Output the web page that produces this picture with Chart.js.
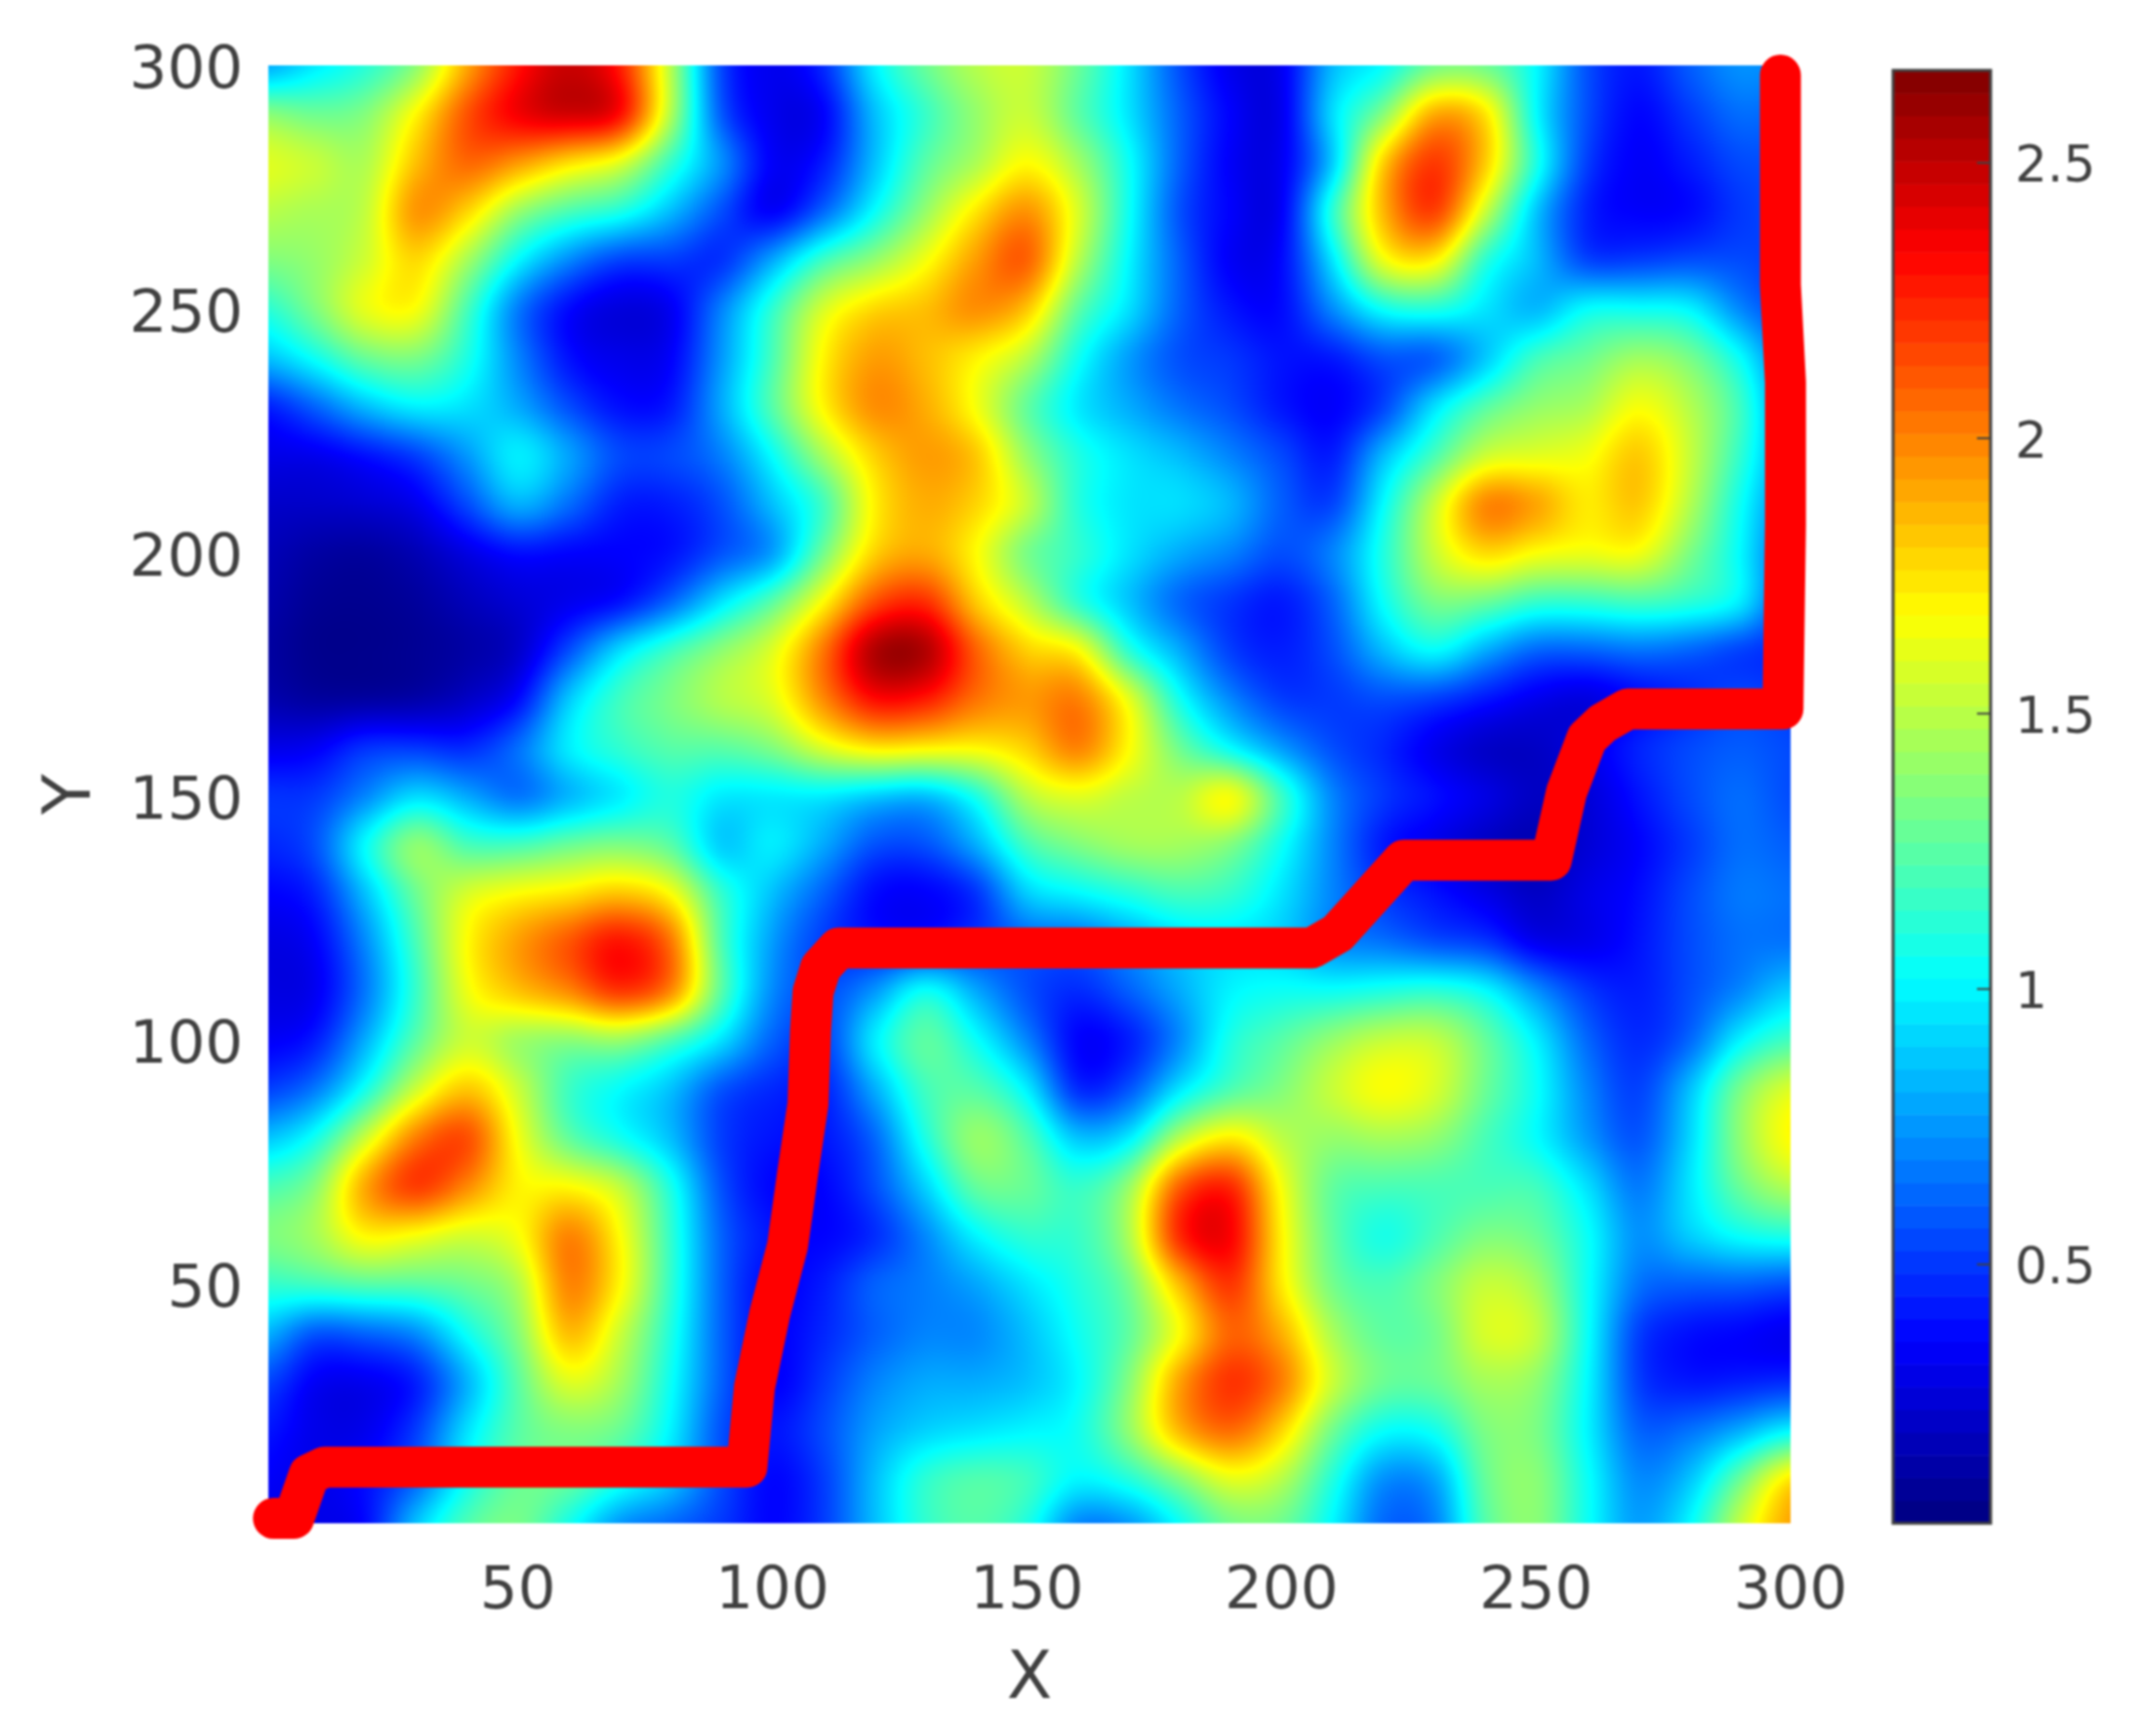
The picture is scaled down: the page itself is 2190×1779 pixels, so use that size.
<!DOCTYPE html>
<html>
<head>
<meta charset="utf-8">
<script src="https://cdn.jsdelivr.net/npm/chart.js@4"></script>
<style>
html,body{margin:0;padding:0;background:#fff}
canvas{display:block;filter:blur(1px)}
</style>
</head>
<body>
<canvas id="c" width="2190" height="1779"></canvas>
<script>
const gridX = [0,10,20,30,40,50,60,70,80,90,100,110,120,130,140,150,160,170,180,190,200,210,220,230,240,250,260,270,280,290,300];
const gridY = [300,290,280,270,260,250,240,230,220,210,200,190,180,170,160,150,140,130,120,110,100,90,80,70,60,50,40,30,20,10,0];
const heatRows = [
[.75,.95,1.1,1.35,1.9,2.3,2.5,2.3,1.5,.5,.3,.45,1.0,1.3,1.5,1.55,1.3,.95,.55,.3,.3,.85,1.0,1.3,1.3,1.02,.55,.4,.6,.75,.7],
[1.4,1.3,1.35,1.7,2.15,2.4,2.5,2.4,1.5,.55,.3,.32,.85,1.15,1.4,1.55,1.25,.95,.6,.35,.28,.95,1.35,1.95,1.8,1.0,.55,.35,.5,.65,.6],
[1.62,1.55,1.45,1.85,2.1,1.95,1.75,1.6,1.15,.75,.32,.4,.85,1.25,1.45,1.7,1.45,1.05,.6,.33,.3,.85,1.85,2.25,1.85,1.1,.5,.33,.42,.55,.55],
[1.5,1.45,1.5,2.0,1.8,1.4,1.2,1.1,.85,.55,.3,.6,1.02,1.4,1.75,2.0,1.6,1.05,.55,.35,.3,1.15,1.9,2.25,1.55,.85,.42,.34,.36,.5,.55],
[1.35,1.4,1.55,1.8,1.45,1.0,.7,.5,.5,.45,.8,1.2,1.4,1.65,1.95,2.15,1.5,1.0,.6,.32,.35,.95,1.68,1.75,1.1,.85,.5,.5,.55,.55,.5],
[1.1,1.35,1.65,1.7,1.2,.65,.35,.25,.3,.7,1.15,1.6,1.8,1.85,2.0,1.85,1.25,.95,.6,.4,.36,.72,1.05,1.1,.95,.8,1.05,1.05,1.02,.7,.5],
[.85,1.05,1.3,1.35,1.1,.7,.38,.3,.33,.75,1.2,1.72,1.95,1.85,1.7,1.5,1.05,.75,.55,.5,.4,.4,.55,.55,.85,1.2,1.3,1.45,1.35,1.05,.6],
[.4,.6,.85,1.0,.95,.8,.55,.38,.4,.8,1.25,1.72,2.0,1.9,1.65,1.25,.95,.8,.65,.55,.4,.33,.5,.95,1.25,1.4,1.45,1.68,1.5,1.2,.65],
[.3,.3,.38,.5,.75,1.02,.8,.55,.55,.68,1.02,1.45,1.8,1.95,1.85,1.4,1.1,.95,.85,.7,.55,.4,.85,1.2,1.55,1.6,1.65,1.85,1.55,1.15,.7],
[.22,.22,.24,.3,.55,.85,.65,.42,.42,.55,.85,1.15,1.72,1.9,1.8,1.55,1.1,.95,.95,.85,.6,.5,1.02,1.55,2.05,1.95,1.72,1.85,1.5,1.05,.65],
[.18,.12,.1,.16,.28,.38,.35,.35,.38,.55,.72,1.3,1.8,1.9,1.68,1.3,1.15,.95,.8,.7,.55,.7,1.1,1.55,1.8,1.68,1.65,1.68,1.35,1.02,.55],
[.15,.08,.07,.1,.18,.25,.3,.36,.6,.95,1.25,1.68,2.15,2.25,1.8,1.5,1.1,.85,.6,.48,.4,.6,1.05,1.35,1.3,1.15,1.15,1.2,1.15,1.02,.5],
[.12,.06,.06,.08,.12,.2,.55,.95,1.2,1.4,1.6,2.05,2.6,2.6,2.1,1.8,1.72,1.1,.8,.5,.42,.55,.85,1.05,.8,.6,.6,.65,.6,.5,.45],
[.15,.1,.1,.12,.2,.35,.9,1.2,1.35,1.5,1.6,2.0,2.35,2.3,2.05,1.95,2.05,1.65,1.05,.7,.5,.5,.55,.5,.4,.3,.25,.35,.45,.55,.5],
[.3,.33,.5,.5,.45,.65,1.0,1.15,1.25,1.25,1.35,1.6,1.75,1.72,1.7,1.8,2.05,1.7,1.3,1.0,.75,.55,.45,.3,.2,.2,.3,.45,.55,.6,.55],
[.5,.5,.7,.95,.8,.62,.8,.95,1.1,.95,.95,.95,.85,.8,1.05,1.5,1.6,1.5,1.5,1.75,1.2,.7,.5,.4,.3,.2,.25,.4,.55,.65,.55],
[.45,.55,1.05,1.45,1.2,1.2,1.3,1.35,1.25,.85,1.0,.8,.55,.55,.8,1.2,1.35,1.45,1.45,1.35,1.05,.7,.4,.3,.2,.15,.25,.35,.5,.65,.6],
[.35,.42,.85,1.3,1.6,1.7,1.75,1.85,1.7,1.15,.85,.6,.36,.33,.45,.9,1.0,1.1,1.2,1.15,.95,.7,.5,.4,.3,.2,.3,.38,.55,.68,.65],
[.28,.33,.7,1.2,1.7,1.95,2.15,2.35,2.1,1.2,.75,.5,.4,.4,.5,.6,.6,.75,.9,.95,.9,.7,.65,.55,.5,.3,.3,.4,.55,.65,.65],
[.28,.3,.65,1.15,1.65,1.85,2.0,2.25,2.05,1.25,.7,.55,.75,1.1,.8,.55,.45,.6,.8,1.0,1.05,1.05,1.1,1.15,1.05,.75,.5,.42,.55,.7,.9],
[.33,.4,.8,1.25,1.55,1.4,1.35,1.4,1.2,.95,.6,.5,1.0,1.3,1.05,.7,.33,.4,.7,1.1,1.25,1.42,1.55,1.55,1.3,1.0,.62,.45,.6,1.0,1.2],
[.5,.65,1.05,1.55,1.85,1.55,1.15,1.0,.85,.55,.45,.42,.8,1.2,1.25,1.0,.42,.55,.95,1.2,1.35,1.55,1.7,1.6,1.3,1.05,.7,.5,.85,1.35,1.62],
[.85,1.05,1.55,2.05,2.2,1.65,1.25,1.05,.85,.5,.4,.4,.6,1.1,1.45,1.25,.85,.95,1.5,1.75,1.5,1.4,1.45,1.4,1.2,1.02,.75,.55,.9,1.4,1.72],
[1.2,1.35,1.95,2.25,2.0,1.7,1.7,1.55,1.1,.55,.35,.35,.55,.9,1.3,1.3,1.15,1.4,2.15,2.3,1.65,1.25,1.2,1.2,1.2,1.2,.95,.65,.95,1.3,1.5],
[1.35,1.45,1.72,1.65,1.55,1.65,2.05,1.7,1.15,.6,.4,.35,.45,.7,1.0,1.15,1.15,1.45,2.3,2.4,1.7,1.25,1.05,1.2,1.35,1.3,1.05,.72,.9,1.05,1.1],
[1.15,1.2,1.25,1.25,1.3,1.45,2.05,1.72,1.15,.6,.35,.42,.62,.68,.78,.95,1.1,1.3,1.85,2.25,1.72,1.3,1.2,1.35,1.55,1.45,1.05,.65,.6,.6,.55],
[.85,.55,.6,.7,1.05,1.35,1.9,1.55,1.1,.6,.35,.45,.6,.7,.7,.85,1.05,1.25,1.65,2.1,1.9,1.45,1.25,1.3,1.6,1.55,1.05,.5,.38,.35,.3],
[.55,.32,.3,.4,.8,1.25,1.62,1.45,1.05,.6,.33,.5,.7,.8,.8,.85,1.0,1.35,1.95,2.25,2.05,1.55,1.3,1.3,1.45,1.4,1.02,.5,.4,.42,.45],
[.42,.3,.3,.5,.95,1.25,1.35,1.3,1.0,.55,.4,.55,.78,.9,.95,1.0,1.05,1.4,1.9,2.1,1.8,1.3,1.02,1.05,1.35,1.35,1.0,.6,.65,.8,1.0],
[.35,.3,.38,.6,1.05,1.3,1.3,1.1,.9,.55,.35,.5,.85,1.15,1.25,1.2,1.0,1.1,1.35,1.62,1.5,1.1,.7,.75,1.3,1.4,1.05,.7,.85,1.3,1.8],
[.3,.3,.35,.9,1.25,1.35,1.05,.7,.6,.5,.35,.5,.85,1.15,1.25,1.1,.65,.7,1.0,1.3,1.3,1.0,.6,.65,1.25,1.4,1.05,.75,1.0,1.55,1.95]
];
const pathX = [2,6,9,12,95,96.5,99.5,103,105,107,107.5,108,109.5,113,206,211,224,253,256,260,263,268,298.5,299,299,298,298,298];
const pathY = [2,2,11,12.5,12.5,29,44,58,73,87,102,110,115,119,119,122,137,137,151,162,165,168,168,206,235,255,275,298];
const xTicks = [50,100,150,200,250,300];
const yTicks = [50,100,150,200,250,300];
const barTicks = [0.5,1,1.5,2,2.5];
const barMin = 0.03, barMax = 2.668, barLevels = 64;
const inkColor = '#404040';
const pathColor = '#ff0000';

function jet(t){
  t = Math.max(0, Math.min(1, t));
  const ramp = c => Math.max(0, Math.min(1, 1.5 - Math.abs(4*t - c)));
  return [ramp(3)*255, ramp(2)*255, ramp(1)*255];
}
function toT(v){ return (v - barMin) / (barMax - barMin); }

const heatPoints = [];
gridY.forEach((y,r) => gridX.forEach((x,c) => heatPoints.push({x, y, v: heatRows[r][c]})));
const pathPoints = pathX.map((x,i) => ({x, y: pathY[i]}));

// Mitchell-Netravali shading kernel: renders the read grid as a smooth surface
function kern(x){
  x = Math.abs(x);
  const B = 1/3, C = 1/3;
  if (x < 1) return ((12-9*B-6*C)*x*x*x + (-18+12*B+6*C)*x*x + (6-2*B))/6;
  if (x < 2) return ((-B-6*C)*x*x*x + (6*B+30*C)*x*x + (-12*B-48*C)*x + (8*B+24*C))/6;
  return 0;
}
function sample(x,y){
  const fx = Math.max(0, Math.min(299.999, x)) / 10;
  const fy = (300 - Math.max(0.001, Math.min(300, y))) / 10;
  const cx = Math.floor(fx), cy = Math.floor(fy);
  const tx = fx-cx, ty = fy-cy;
  let sum = 0;
  for (let m=-1; m<=2; m++){
    const wy = kern(m-ty);
    const R = heatRows[Math.max(0, Math.min(30, cy+m))];
    for (let n=-1; n<=2; n++){
      sum += wy * kern(n-tx) * R[Math.max(0, Math.min(30, cx+n))];
    }
  }
  return sum;
}

const heatPlugin = {
  id: 'heat',
  afterLayout(chart){
    const L=275, T=67, R=1835, B=1561, W=chart.width, H=chart.height;
    const place = (s,l,t,r,b) => { s.left=l; s.top=t; s.right=r; s.bottom=b; s.width=r-l; s.height=b-t; s.configure(); };
    chart.chartArea = {left:L, top:T, right:R, bottom:B, width:R-L, height:B-T};
    place(chart.scales.x, L, B, R, H);
    place(chart.scales.y, 0, T, L, B);
    place(chart.scales.bar, R, T, W, B);
  },
  beforeDatasetsDraw(chart){
    const {ctx, chartArea: a, scales} = chart;
    const w = Math.round(a.right - a.left), h = Math.round(a.bottom - a.top);
    const off = document.createElement('canvas');
    off.width = w; off.height = h;
    const oc = off.getContext('2d');
    const img = oc.createImageData(w, h);
    for (let j=0; j<h; j++){
      const yv = scales.y.getValueForPixel(a.top + j + 0.5);
      for (let i=0; i<w; i++){
        const xv = scales.x.getValueForPixel(a.left + i + 0.5);
        const rgb = jet(toT(sample(xv, yv)));
        const k = (j*w + i)*4;
        img.data[k]=rgb[0]; img.data[k+1]=rgb[1]; img.data[k+2]=rgb[2]; img.data[k+3]=255;
      }
    }
    oc.putImageData(img, 0, 0);
    ctx.drawImage(off, a.left, a.top);

    // colour bar, drawn through its own scale
    const s = scales.bar;
    const left = a.right + 105, right = a.right + 205;
    for (let l=0; l<barLevels; l++){
      const v0 = barMin + (barMax-barMin)*l/barLevels;
      const v1 = barMin + (barMax-barMin)*(l+1)/barLevels;
      const rgb = jet((l+0.5)/barLevels);
      ctx.fillStyle = `rgb(${rgb[0]|0},${rgb[1]|0},${rgb[2]|0})`;
      const py1 = s.getPixelForValue(v1), py0 = s.getPixelForValue(v0);
      ctx.fillRect(left, py1, right-left, py0-py1+0.5);
    }
    ctx.strokeStyle = inkColor; ctx.lineWidth = 3;
    const top = s.getPixelForValue(barMax), bot = s.getPixelForValue(barMin);
    ctx.strokeRect(left, top, right-left, bot-top);
    ctx.lineWidth = 2;
    barTicks.forEach(v => {
      const p = s.getPixelForValue(v);
      ctx.beginPath(); ctx.moveTo(right-14, p); ctx.lineTo(right, p); ctx.stroke();
    });
  }
};

const tickFont = {family:'"DejaVu Sans"', size:61};
const titleFont = {family:'"DejaVu Sans"', size:68};

new Chart(document.getElementById('c'), {
  type: 'scatter',
  plugins: [heatPlugin],
  data: { datasets: [
    { label:'field', data: heatPoints, pointRadius:0, showLine:false },
    { label:'path', data: pathPoints, showLine:true, borderColor:pathColor, backgroundColor:pathColor,
      borderWidth:42, borderCapStyle:'round', borderJoinStyle:'round', pointRadius:0, tension:0, clip:false }
  ]},
  options: {
    responsive:false, animation:false, devicePixelRatio:1,
    plugins:{legend:{display:false}, tooltip:{enabled:false}},
    scales:{
      x:{ type:'linear', position:'bottom', min:1, max:300,
        grid:{display:false, drawTicks:false}, border:{display:false},
        afterBuildTicks(s){ s.ticks = xTicks.map(value=>({value})); },
        ticks:{font:tickFont, color:inkColor, padding:35, maxRotation:0, autoSkip:false},
        title:{display:true, text:'X', font:titleFont, color:inkColor, padding:{top:0,bottom:16}}
      },
      y:{ type:'linear', position:'left', min:1, max:300,
        grid:{display:false, drawTicks:false}, border:{display:false},
        afterBuildTicks(s){ s.ticks = yTicks.map(value=>({value})); },
        ticks:{font:tickFont, color:inkColor, padding:26, autoSkip:false, labelOffset:7},
        title:{display:true, text:'Y', font:titleFont, color:inkColor, padding:{top:34,bottom:0}}
      },
      bar:{ type:'linear', position:'right', min:0.03, max:2.677,
        grid:{display:false, drawTicks:false}, border:{display:false},
        afterBuildTicks(s){ s.ticks = barTicks.map(value=>({value})); },
        ticks:{font:{family:'"DejaVu Sans"', size:52}, color:inkColor, padding:230, autoSkip:false, labelOffset:6,
               callback:v=>String(v)}
      }
    }
  }
});
</script>
</body>
</html>
